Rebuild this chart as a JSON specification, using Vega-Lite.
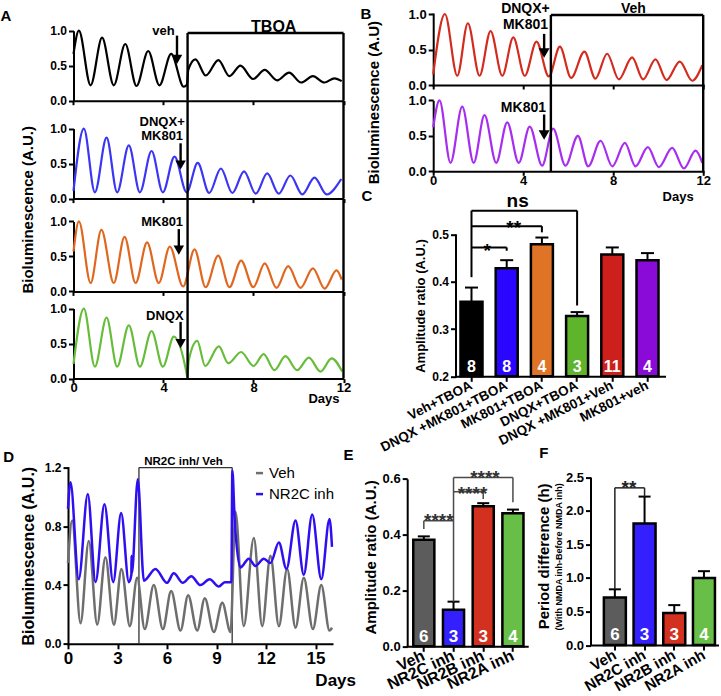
{
"$schema": "https://vega.github.io/schema/vega-lite/v6.json",
"background": "white",
"padding": {"left": 0, "top": 2, "right": 0, "bottom": 0},
"config": {
  "view": {"stroke": null},
  "font": "Liberation Sans",
  "axis": {"domainColor": "#000000", "domainWidth": 2, "domainCap": "square", "tickColor": "#000000", "tickWidth": 2, "tickSize": 5, "labelFont": "Liberation Sans", "labelFontWeight": "bold", "labelFontSize": 12, "labelColor": "#000000", "titleFont": "Liberation Sans", "titleFontWeight": "bold", "titleColor": "#000000", "grid": false, "labelPadding": 2, "titlePadding": 4, "labelFlush": false, "labelOverlap": false},
  "title": {"font": "Liberation Sans", "fontWeight": "bold", "color": "#000000", "fontSize": 15},
  "text": {"font": "Liberation Sans", "fontWeight": "bold", "color": "#000000"},
  "legend": {"labelFont": "Liberation Sans", "labelColor": "#000000"}
},
"datasets": {
  "tA": [
    {"s":"veh","x":0,"y":0.67},{"s":"veh","x":0.24,"y":1.0},{"s":"veh","x":0.76,"y":0.22},{"s":"veh","x":1.27,"y":0.9},{"s":"veh","x":1.79,"y":0.22},{"s":"veh","x":2.3,"y":0.81},{"s":"veh","x":2.8,"y":0.21},{"s":"veh","x":3.32,"y":0.71},{"s":"veh","x":3.82,"y":0.22},{"s":"veh","x":4.34,"y":0.67},{"s":"veh","x":4.9,"y":0.2},{"s":"veh","x":5.04,"y":0.23},{"s":"veh","x":5.1,"y":0.44},{"s":"veh","x":5.42,"y":0.59},{"s":"veh","x":5.88,"y":0.36},{"s":"veh","x":6.44,"y":0.58},{"s":"veh","x":6.93,"y":0.35},{"s":"veh","x":7.42,"y":0.5},{"s":"veh","x":7.98,"y":0.31},{"s":"veh","x":8.5,"y":0.44},{"s":"veh","x":9.05,"y":0.29},{"s":"veh","x":9.58,"y":0.4},{"s":"veh","x":10.12,"y":0.26},{"s":"veh","x":10.64,"y":0.35},{"s":"veh","x":11.15,"y":0.26},{"s":"veh","x":11.6,"y":0.32},{"s":"veh","x":11.92,"y":0.28},
    {"s":"dm","x":0,"y":0.11},{"s":"dm","x":0.46,"y":1.0},{"s":"dm","x":0.95,"y":0.09},{"s":"dm","x":1.47,"y":0.87},{"s":"dm","x":1.94,"y":0.09},{"s":"dm","x":2.46,"y":0.76},{"s":"dm","x":2.95,"y":0.09},{"s":"dm","x":3.47,"y":0.68},{"s":"dm","x":3.97,"y":0.09},{"s":"dm","x":4.49,"y":0.6},{"s":"dm","x":5.03,"y":0.09},{"s":"dm","x":5.52,"y":0.51},{"s":"dm","x":6.03,"y":0.08},{"s":"dm","x":6.55,"y":0.43},{"s":"dm","x":7.06,"y":0.08},{"s":"dm","x":7.58,"y":0.39},{"s":"dm","x":8.1,"y":0.07},{"s":"dm","x":8.61,"y":0.36},{"s":"dm","x":9.12,"y":0.07},{"s":"dm","x":9.64,"y":0.33},{"s":"dm","x":10.17,"y":0.06},{"s":"dm","x":10.71,"y":0.3},{"s":"dm","x":11.25,"y":0.06},{"s":"dm","x":11.9,"y":0.28},
    {"s":"mk","x":0,"y":0.57},{"s":"mk","x":0.24,"y":1.0},{"s":"mk","x":0.76,"y":0.12},{"s":"mk","x":1.24,"y":0.88},{"s":"mk","x":1.79,"y":0.12},{"s":"mk","x":2.27,"y":0.78},{"s":"mk","x":2.76,"y":0.12},{"s":"mk","x":3.27,"y":0.7},{"s":"mk","x":3.79,"y":0.12},{"s":"mk","x":4.28,"y":0.64},{"s":"mk","x":4.87,"y":0.07},{"s":"mk","x":5.38,"y":0.6},{"s":"mk","x":5.87,"y":0.06},{"s":"mk","x":6.43,"y":0.51},{"s":"mk","x":6.93,"y":0.06},{"s":"mk","x":7.45,"y":0.44},{"s":"mk","x":7.99,"y":0.06},{"s":"mk","x":8.5,"y":0.4},{"s":"mk","x":9.02,"y":0.05},{"s":"mk","x":9.54,"y":0.36},{"s":"mk","x":10.09,"y":0.05},{"s":"mk","x":10.64,"y":0.33},{"s":"mk","x":11.16,"y":0.04},{"s":"mk","x":11.69,"y":0.3},{"s":"mk","x":11.92,"y":0.17},
    {"s":"dq","x":0,"y":0.21},{"s":"dq","x":0.46,"y":1.0},{"s":"dq","x":0.95,"y":0.17},{"s":"dq","x":1.47,"y":0.87},{"s":"dq","x":1.94,"y":0.17},{"s":"dq","x":2.46,"y":0.76},{"s":"dq","x":2.95,"y":0.17},{"s":"dq","x":3.47,"y":0.68},{"s":"dq","x":3.97,"y":0.17},{"s":"dq","x":4.46,"y":0.6},{"s":"dq","x":5.0,"y":0.12},{"s":"dq","x":5.06,"y":0.02},{"s":"dq","x":5.12,"y":0.26},{"s":"dq","x":5.5,"y":0.54},{"s":"dq","x":5.85,"y":0.18},{"s":"dq","x":6.46,"y":0.46},{"s":"dq","x":6.88,"y":0.22},{"s":"dq","x":7.45,"y":0.38},{"s":"dq","x":8.0,"y":0.18},{"s":"dq","x":8.45,"y":0.35},{"s":"dq","x":8.93,"y":0.12},{"s":"dq","x":9.42,"y":0.32},{"s":"dq","x":9.94,"y":0.12},{"s":"dq","x":10.46,"y":0.3},{"s":"dq","x":10.98,"y":0.1},{"s":"dq","x":11.47,"y":0.29},{"s":"dq","x":11.94,"y":0.1}
  ],
  "tB": [
    {"s":"red","x":0,"y":0.15},{"s":"red","x":0.52,"y":1.0},{"s":"red","x":1.07,"y":0.13},{"s":"red","x":1.54,"y":0.87},{"s":"red","x":2.06,"y":0.13},{"s":"red","x":2.55,"y":0.76},{"s":"red","x":3.07,"y":0.13},{"s":"red","x":3.56,"y":0.67},{"s":"red","x":4.07,"y":0.13},{"s":"red","x":4.59,"y":0.61},{"s":"red","x":5.14,"y":0.12},{"s":"red","x":5.63,"y":0.54},{"s":"red","x":6.13,"y":0.1},{"s":"red","x":6.72,"y":0.47},{"s":"red","x":7.21,"y":0.09},{"s":"red","x":7.73,"y":0.44},{"s":"red","x":8.25,"y":0.08},{"s":"red","x":8.84,"y":0.39},{"s":"red","x":9.33,"y":0.08},{"s":"red","x":9.88,"y":0.36},{"s":"red","x":10.37,"y":0.07},{"s":"red","x":10.96,"y":0.33},{"s":"red","x":11.51,"y":0.06},{"s":"red","x":11.96,"y":0.28},
    {"s":"pur","x":0,"y":0.62},{"s":"pur","x":0.28,"y":1.0},{"s":"pur","x":0.77,"y":0.12},{"s":"pur","x":1.29,"y":0.91},{"s":"pur","x":1.8,"y":0.12},{"s":"pur","x":2.28,"y":0.79},{"s":"pur","x":2.8,"y":0.12},{"s":"pur","x":3.29,"y":0.69},{"s":"pur","x":3.8,"y":0.12},{"s":"pur","x":4.29,"y":0.63},{"s":"pur","x":4.84,"y":0.08},{"s":"pur","x":5.33,"y":0.6},{"s":"pur","x":5.88,"y":0.08},{"s":"pur","x":6.43,"y":0.5},{"s":"pur","x":6.89,"y":0.07},{"s":"pur","x":7.44,"y":0.43},{"s":"pur","x":7.96,"y":0.07},{"s":"pur","x":8.52,"y":0.4},{"s":"pur","x":8.99,"y":0.07},{"s":"pur","x":9.54,"y":0.34},{"s":"pur","x":10.03,"y":0.06},{"s":"pur","x":10.62,"y":0.33},{"s":"pur","x":11.14,"y":0.04},{"s":"pur","x":11.66,"y":0.29},{"s":"pur","x":11.96,"y":0.12}
  ],
  "tD": [
    {"s":"Veh","x":0,"y":0.55},{"s":"Veh","x":0.25,"y":0.84},{"s":"Veh","x":0.76,"y":0.14},{"s":"Veh","x":1.26,"y":0.7},{"s":"Veh","x":1.77,"y":0.13},{"s":"Veh","x":2.27,"y":0.59},{"s":"Veh","x":2.78,"y":0.13},{"s":"Veh","x":3.24,"y":0.51},{"s":"Veh","x":3.75,"y":0.12},{"s":"Veh","x":4.19,"y":0.45},{"s":"Veh","x":4.65,"y":0.1},{"s":"Veh","x":5.2,"y":0.4},{"s":"Veh","x":5.75,"y":0.1},{"s":"Veh","x":6.25,"y":0.36},{"s":"Veh","x":6.82,"y":0.09},{"s":"Veh","x":7.28,"y":0.33},{"s":"Veh","x":7.83,"y":0.09},{"s":"Veh","x":8.29,"y":0.31},{"s":"Veh","x":8.84,"y":0.08},{"s":"Veh","x":9.35,"y":0.28},{"s":"Veh","x":9.85,"y":0.08},{"s":"Veh","x":10.15,"y":0.9},{"s":"Veh","x":10.65,"y":0.12},{"s":"Veh","x":11.26,"y":0.72},{"s":"Veh","x":11.77,"y":0.12},{"s":"Veh","x":12.27,"y":0.6},{"s":"Veh","x":12.78,"y":0.12},{"s":"Veh","x":13.28,"y":0.51},{"s":"Veh","x":13.79,"y":0.11},{"s":"Veh","x":14.29,"y":0.45},{"s":"Veh","x":14.84,"y":0.1},{"s":"Veh","x":15.35,"y":0.4},{"s":"Veh","x":15.85,"y":0.09},{"s":"Veh","x":16,"y":0.11},
    {"s":"NR2C inh","x":0,"y":0.92},{"s":"NR2C inh","x":0.15,"y":1.1},{"s":"NR2C inh","x":0.65,"y":0.44},{"s":"NR2C inh","x":1.2,"y":1.02},{"s":"NR2C inh","x":1.67,"y":0.42},{"s":"NR2C inh","x":2.21,"y":0.95},{"s":"NR2C inh","x":2.74,"y":0.42},{"s":"NR2C inh","x":3.22,"y":0.89},{"s":"NR2C inh","x":3.69,"y":0.42},{"s":"NR2C inh","x":3.84,"y":0.47},{"s":"NR2C inh","x":3.85,"y":0.6},{"s":"NR2C inh","x":3.87,"y":0.48},{"s":"NR2C inh","x":4.23,"y":1.12},{"s":"NR2C inh","x":4.6,"y":0.43},{"s":"NR2C inh","x":5.3,"y":0.51},{"s":"NR2C inh","x":6.0,"y":0.415},{"s":"NR2C inh","x":6.41,"y":0.48},{"s":"NR2C inh","x":6.96,"y":0.415},{"s":"NR2C inh","x":7.47,"y":0.46},{"s":"NR2C inh","x":8.03,"y":0.4},{"s":"NR2C inh","x":8.58,"y":0.44},{"s":"NR2C inh","x":9.14,"y":0.39},{"s":"NR2C inh","x":9.5,"y":0.42},{"s":"NR2C inh","x":9.9,"y":0.42},{"s":"NR2C inh","x":9.96,"y":1.18},{"s":"NR2C inh","x":10.1,"y":0.85},{"s":"NR2C inh","x":10.45,"y":0.52},{"s":"NR2C inh","x":10.96,"y":0.58},{"s":"NR2C inh","x":11.36,"y":0.53},{"s":"NR2C inh","x":11.87,"y":0.58},{"s":"NR2C inh","x":12.27,"y":0.55},{"s":"NR2C inh","x":12.78,"y":0.69},{"s":"NR2C inh","x":13.24,"y":0.51},{"s":"NR2C inh","x":13.79,"y":0.84},{"s":"NR2C inh","x":14.29,"y":0.47},{"s":"NR2C inh","x":14.8,"y":0.88},{"s":"NR2C inh","x":15.35,"y":0.44},{"s":"NR2C inh","x":15.85,"y":0.85},{"s":"NR2C inh","x":16,"y":0.66}
  ],
  "barC": [
    {"cat":"Veh+TBOA","v":0.358,"e":0.388,"n":"8"},{"cat":"DNQX +MK801+TBOA","v":0.429,"e":0.446,"n":"8"},{"cat":"MK801+TBOA","v":0.48,"e":0.494,"n":"4"},{"cat":"DNQX+TBOA","v":0.328,"e":0.336,"n":"3"},{"cat":"DNQX +MK801+Veh","v":0.458,"e":0.473,"n":"11"},{"cat":"MK801+veh","v":0.446,"e":0.461,"n":"4"}
  ],
  "barE": [
    {"cat":"Veh","v":0.382,"e":0.394,"n":"6"},{"cat":"NR2C inh","v":0.131,"e":0.16,"n":"3"},{"cat":"NR2B inh","v":0.502,"e":0.513,"n":"3"},{"cat":"NR2A inh","v":0.477,"e":0.49,"n":"4"}
  ],
  "barF": [
    {"cat":"Veh","v":0.71,"e":0.83,"n":"6"},{"cat":"NR2C inh","v":1.81,"e":2.21,"n":"3"},{"cat":"NR2B inh","v":0.476,"e":0.595,"n":"3"},{"cat":"NR2A inh","v":1.0,"e":1.1,"n":"4"}
  ]
},
"resolve": {"scale": {"color": "independent"}, "legend": {"color": "independent"}},
"bounds": "flush",
"spacing": 453.6,
"vconcat": [
 {"resolve": {"scale": {"color": "independent"}, "legend": {"color": "independent"}},
  "bounds": "flush",
  "spacing": 365.2,
  "hconcat": [
  {"title": {"text": "A", "anchor": "start", "frame": "group", "fontSize": 15, "offset": -10, "dx": -67.5},
   "bounds": "flush",
   "vconcat": [
    {"title": {"text": "Bioluminescence (A.U.)", "orient": "left", "anchor": "middle", "fontSize": 15, "offset": 14},
     "bounds": "flush",
     "spacing": 0,
     "vconcat": [
      {"width": 275.5, "height": 86.7, "layer": [
        {"data": {"name": "tA"}, "transform": [{"filter": "datum.s === 'veh'"}], "mark": {"type": "line", "interpolate": "monotone", "color": "#000000", "strokeWidth": 2.2},
         "encoding": {"x": {"field": "x", "type": "quantitative", "scale": {"domain": [-0.2444, 12]}, "axis": {"values": [0, 4, 8, 12], "labels": false, "title": null, "tickSize": 4, "domainDash": [0, 5.5, 2000], "domainCap": "butt"}},
                      "y": {"field": "y", "type": "quantitative", "scale": {"domain": [0, 1.2386]}, "axis": {"values": [0, 0.5, 1], "format": ".1f", "title": null, "offset": -5.5, "domainDash": [70, 2000], "domainCap": "butt"}}}},
        {"data": {"values": [{"x": 5.07, "y": 0, "y2": 0.967}, {"x": 12, "y": 0, "y2": 0.967}, {"x": 4.6, "y": 0.93, "y2": 0.64}]}, "mark": {"type": "rule", "color": "#000000", "strokeWidth": 2.4},
         "encoding": {"x": {"field": "x", "type": "quantitative", "scale": {"domain": [-0.2444, 12]}}, "y": {"field": "y", "type": "quantitative", "scale": {"domain": [0, 1.2386]}}, "y2": {"field": "y2"}}},
        {"data": {"values": [{"x": 5.07, "x2": 12, "y": 0.967}]}, "mark": {"type": "rule", "color": "#000000", "strokeWidth": 2.4},
         "encoding": {"x": {"field": "x", "type": "quantitative", "scale": {"domain": [-0.2444, 12]}}, "x2": {"field": "x2"}, "y": {"field": "y", "type": "quantitative", "scale": {"domain": [0, 1.2386]}}}},
        {"data": {"values": [{"x": 4.6, "y": 0.59}]}, "mark": {"type": "point", "shape": "triangle-down", "filled": true, "color": "#000000", "opacity": 1, "size": 110},
         "encoding": {"x": {"field": "x", "type": "quantitative", "scale": {"domain": [-0.2444, 12]}}, "y": {"field": "y", "type": "quantitative", "scale": {"domain": [0, 1.2386]}}}},
        {"data": {"values": [{"x": 4.0, "y": 1.0, "t": "veh"}]}, "mark": {"type": "text", "fontSize": 13},
         "encoding": {"x": {"field": "x", "type": "quantitative", "scale": {"domain": [-0.2444, 12]}}, "y": {"field": "y", "type": "quantitative", "scale": {"domain": [0, 1.2386]}}, "text": {"field": "t"}}},
        {"data": {"values": [{"x": 8.9, "y": 1.05, "t": "TBOA"}]}, "mark": {"type": "text", "fontSize": 16},
         "encoding": {"x": {"field": "x", "type": "quantitative", "scale": {"domain": [-0.2444, 12]}}, "y": {"field": "y", "type": "quantitative", "scale": {"domain": [0, 1.2386]}}, "text": {"field": "t"}}}
      ]},
      {"width": 275.5, "height": 97.6, "layer": [
        {"data": {"name": "tA"}, "transform": [{"filter": "datum.s === 'dm'"}], "mark": {"type": "line", "interpolate": "monotone", "color": "#3b35f4", "strokeWidth": 2.2},
         "encoding": {"x": {"field": "x", "type": "quantitative", "scale": {"domain": [-0.2444, 12]}, "axis": {"values": [0, 4, 8, 12], "labels": false, "title": null, "tickSize": 4, "domainDash": [0, 5.5, 2000], "domainCap": "butt"}},
                      "y": {"field": "y", "type": "quantitative", "scale": {"domain": [0, 1.3943]}, "axis": {"values": [0, 0.5, 1], "format": ".1f", "title": null, "offset": -5.5, "domainDash": [70, 2000], "domainCap": "butt"}}}},
        {"data": {"values": [{"x": 5.07, "y": 0, "y2": 1.3943}, {"x": 12, "y": 0, "y2": 1.3943}, {"x": 4.76, "y": 0.79, "y2": 0.52}]}, "mark": {"type": "rule", "color": "#000000", "strokeWidth": 2.4},
         "encoding": {"x": {"field": "x", "type": "quantitative", "scale": {"domain": [-0.2444, 12]}}, "y": {"field": "y", "type": "quantitative", "scale": {"domain": [0, 1.3943]}}, "y2": {"field": "y2"}}},
        {"data": {"values": [{"x": 4.76, "y": 0.48}]}, "mark": {"type": "point", "shape": "triangle-down", "filled": true, "color": "#000000", "opacity": 1, "size": 110},
         "encoding": {"x": {"field": "x", "type": "quantitative", "scale": {"domain": [-0.2444, 12]}}, "y": {"field": "y", "type": "quantitative", "scale": {"domain": [0, 1.3943]}}}},
        {"data": {"values": [{"x": 3.94, "y": 1.1, "t": "DNQX+"}, {"x": 3.94, "y": 0.89, "t": "MK801"}]}, "mark": {"type": "text", "fontSize": 13},
         "encoding": {"x": {"field": "x", "type": "quantitative", "scale": {"domain": [-0.2444, 12]}}, "y": {"field": "y", "type": "quantitative", "scale": {"domain": [0, 1.3943]}}, "text": {"field": "t"}}}
      ]},
      {"width": 275.5, "height": 92.4, "layer": [
        {"data": {"name": "tA"}, "transform": [{"filter": "datum.s === 'mk'"}], "mark": {"type": "line", "interpolate": "monotone", "color": "#e0671f", "strokeWidth": 2.2},
         "encoding": {"x": {"field": "x", "type": "quantitative", "scale": {"domain": [-0.2444, 12]}, "axis": {"values": [0, 4, 8, 12], "labels": false, "title": null, "tickSize": 4, "domainDash": [0, 5.5, 2000], "domainCap": "butt"}},
                      "y": {"field": "y", "type": "quantitative", "scale": {"domain": [0, 1.32]}, "axis": {"values": [0, 0.5, 1], "format": ".1f", "title": null, "offset": -5.5, "domainDash": [70, 2000], "domainCap": "butt"}}}},
        {"data": {"values": [{"x": 5.07, "y": 0, "y2": 1.32}, {"x": 12, "y": 0, "y2": 1.32}, {"x": 4.68, "y": 0.89, "y2": 0.63}]}, "mark": {"type": "rule", "color": "#000000", "strokeWidth": 2.4},
         "encoding": {"x": {"field": "x", "type": "quantitative", "scale": {"domain": [-0.2444, 12]}}, "y": {"field": "y", "type": "quantitative", "scale": {"domain": [0, 1.32]}}, "y2": {"field": "y2"}}},
        {"data": {"values": [{"x": 4.68, "y": 0.59}]}, "mark": {"type": "point", "shape": "triangle-down", "filled": true, "color": "#000000", "opacity": 1, "size": 110},
         "encoding": {"x": {"field": "x", "type": "quantitative", "scale": {"domain": [-0.2444, 12]}}, "y": {"field": "y", "type": "quantitative", "scale": {"domain": [0, 1.32]}}}},
        {"data": {"values": [{"x": 3.94, "y": 0.99, "t": "MK801"}]}, "mark": {"type": "text", "fontSize": 13},
         "encoding": {"x": {"field": "x", "type": "quantitative", "scale": {"domain": [-0.2444, 12]}}, "y": {"field": "y", "type": "quantitative", "scale": {"domain": [0, 1.32]}}, "text": {"field": "t"}}}
      ]},
      {"width": 275.5, "height": 86.6, "layer": [
        {"data": {"name": "tA"}, "transform": [{"filter": "datum.s === 'dq'"}], "mark": {"type": "line", "interpolate": "monotone", "color": "#67bd3a", "strokeWidth": 2.2},
         "encoding": {"x": {"field": "x", "type": "quantitative", "scale": {"domain": [-0.2444, 12]}, "axis": {"values": [0, 4, 8, 12], "labelFontSize": 13, "tickSize": 4, "labelPadding": -1, "title": "Days", "titleFontSize": 13, "titleAlign": "right", "titleBaseline": "middle", "titleX": 271, "titleY": 20, "domainDash": [0, 5.5, 2000], "domainCap": "butt"}},
                      "y": {"field": "y", "type": "quantitative", "scale": {"domain": [0, 1.2371]}, "axis": {"values": [0, 0.5, 1], "format": ".1f", "title": null, "offset": -5.5, "domainDash": [70, 2000], "domainCap": "butt"}}}},
        {"data": {"values": [{"x": 5.07, "y": 0, "y2": 1.2371}, {"x": 12, "y": 0, "y2": 1.2371}, {"x": 4.76, "y": 0.81, "y2": 0.54}]}, "mark": {"type": "rule", "color": "#000000", "strokeWidth": 2.4},
         "encoding": {"x": {"field": "x", "type": "quantitative", "scale": {"domain": [-0.2444, 12]}}, "y": {"field": "y", "type": "quantitative", "scale": {"domain": [0, 1.2371]}}, "y2": {"field": "y2"}}},
        {"data": {"values": [{"x": 4.76, "y": 0.5}]}, "mark": {"type": "point", "shape": "triangle-down", "filled": true, "color": "#000000", "opacity": 1, "size": 110},
         "encoding": {"x": {"field": "x", "type": "quantitative", "scale": {"domain": [-0.2444, 12]}}, "y": {"field": "y", "type": "quantitative", "scale": {"domain": [0, 1.2371]}}}},
        {"data": {"values": [{"x": 4.06, "y": 0.89, "t": "DNQX"}]}, "mark": {"type": "text", "fontSize": 13},
         "encoding": {"x": {"field": "x", "type": "quantitative", "scale": {"domain": [-0.2444, 12]}}, "y": {"field": "y", "type": "quantitative", "scale": {"domain": [0, 1.2371]}}, "text": {"field": "t"}}}
      ]}
     ]}
   ]},
  {"spacing": 220.7,
   "bounds": "flush",
   "resolve": {"scale": {"color": "independent"}, "legend": {"color": "independent"}},
   "vconcat": [
    {"title": {"text": "B", "anchor": "start", "frame": "group", "fontSize": 15, "offset": -19.8, "dx": -72.7},
     "bounds": "flush",
     "vconcat": [
      {"title": {"text": "Bioluminescence (A.U)", "orient": "left", "anchor": "middle", "fontSize": 15, "offset": 26},
       "bounds": "flush",
       "spacing": 0,
       "vconcat": [
        {"width": 270, "height": 71, "layer": [
          {"data": {"name": "tB"}, "transform": [{"filter": "datum.s === 'red'"}], "mark": {"type": "line", "interpolate": "monotone", "color": "#d42b1f", "strokeWidth": 2.2},
           "encoding": {"x": {"field": "x", "type": "quantitative", "scale": {"domain": [0, 12]}, "axis": {"values": [0, 4, 8, 12], "labels": false, "title": null, "tickSize": 4}},
                        "y": {"field": "y", "type": "quantitative", "scale": {"domain": [0, 1]}, "axis": {"format": ".1f", "title": null, "labelFontSize": 13}}}},
          {"data": {"values": [{"x": 5.23, "y": 0, "y2": 0.986}, {"x": 12, "y": 0, "y2": 0.986}, {"x": 4.93, "y": 0.72, "y2": 0.5}]}, "mark": {"type": "rule", "color": "#000000", "strokeWidth": 2.4},
           "encoding": {"x": {"field": "x", "type": "quantitative", "scale": {"domain": [0, 12]}}, "y": {"field": "y", "type": "quantitative", "scale": {"domain": [0, 1]}}, "y2": {"field": "y2"}}},
          {"data": {"values": [{"x": 5.23, "x2": 12, "y": 0.986}]}, "mark": {"type": "rule", "color": "#000000", "strokeWidth": 2.4},
           "encoding": {"x": {"field": "x", "type": "quantitative", "scale": {"domain": [0, 12]}}, "x2": {"field": "x2"}, "y": {"field": "y", "type": "quantitative", "scale": {"domain": [0, 1]}}}},
          {"data": {"values": [{"x": 4.93, "y": 0.45}]}, "mark": {"type": "point", "shape": "triangle-down", "filled": true, "color": "#000000", "opacity": 1, "size": 120},
           "encoding": {"x": {"field": "x", "type": "quantitative", "scale": {"domain": [0, 12]}}, "y": {"field": "y", "type": "quantitative", "scale": {"domain": [0, 1]}}}},
          {"data": {"values": [{"x": 4.1, "y": 1.07, "t": "DNQX+"}, {"x": 4.1, "y": 0.85, "t": "MK801"}, {"x": 8.9, "y": 1.067, "t": "Veh"}]}, "mark": {"type": "text", "fontSize": 14},
           "encoding": {"x": {"field": "x", "type": "quantitative", "scale": {"domain": [0, 12]}}, "y": {"field": "y", "type": "quantitative", "scale": {"domain": [0, 1]}}, "text": {"field": "t"}}}
        ]},
        {"width": 270, "height": 86.3, "layer": [
          {"data": {"name": "tB"}, "transform": [{"filter": "datum.s === 'pur'"}], "mark": {"type": "line", "interpolate": "monotone", "color": "#a72df0", "strokeWidth": 2.2},
           "encoding": {"x": {"field": "x", "type": "quantitative", "scale": {"domain": [0, 12]}, "axis": {"values": [0, 4, 8, 12], "labelFontSize": 13, "tickSize": 4, "labelPadding": -1, "title": "Days", "titleFontSize": 13, "titleAnchor": "end", "titleAlign": "right", "titleX": 260, "titlePadding": 3}},
                        "y": {"field": "y", "type": "quantitative", "scale": {"domain": [0, 1.2155]}, "axis": {"values": [0, 0.5, 1], "format": ".1f", "title": null, "labelFontSize": 13, "domainDash": [71, 2000], "domainCap": "butt"}}}},
          {"data": {"values": [{"x": 5.23, "y": 0, "y2": 1.2155}, {"x": 12, "y": 0, "y2": 1.2155}, {"x": 4.93, "y": 0.8, "y2": 0.56}]}, "mark": {"type": "rule", "color": "#000000", "strokeWidth": 2.4},
           "encoding": {"x": {"field": "x", "type": "quantitative", "scale": {"domain": [0, 12]}}, "y": {"field": "y", "type": "quantitative", "scale": {"domain": [0, 1.2155]}}, "y2": {"field": "y2"}}},
          {"data": {"values": [{"x": 4.93, "y": 0.51}]}, "mark": {"type": "point", "shape": "triangle-down", "filled": true, "color": "#000000", "opacity": 1, "size": 120},
           "encoding": {"x": {"field": "x", "type": "quantitative", "scale": {"domain": [0, 12]}}, "y": {"field": "y", "type": "quantitative", "scale": {"domain": [0, 1.2155]}}}},
          {"data": {"values": [{"x": 4.01, "y": 0.89, "t": "MK801"}]}, "mark": {"type": "text", "fontSize": 14},
           "encoding": {"x": {"field": "x", "type": "quantitative", "scale": {"domain": [0, 12]}}, "y": {"field": "y", "type": "quantitative", "scale": {"domain": [0, 1.2155]}}, "text": {"field": "t"}}}
        ]}
       ]}
     ]},
    {"width": 232.3, "height": 141.6,
     "title": {"text": "C", "anchor": "start", "frame": "group", "fontSize": 15, "dx": -71.7, "offset": -12},
     "layer": [
      {"data": {"name": "barC"}, "mark": {"type": "rule", "color": "#000000", "strokeWidth": 2},
       "encoding": {"x": {"field": "cat", "type": "nominal", "sort": null, "scale": {"domain": ["Veh+TBOA","DNQX +MK801+TBOA","MK801+TBOA","DNQX+TBOA","DNQX +MK801+Veh","MK801+veh"], "paddingInner": 0.375, "paddingOuter": 0.487, "align": 0.796}},
                    "y": {"field": "v", "type": "quantitative", "scale": {"domain": [0.2, 0.5]}}, "y2": {"field": "e"}}},
      {"data": {"name": "barC"}, "mark": {"type": "tick", "color": "#000000", "size": 13, "thickness": 2, "opacity": 1},
       "encoding": {"x": {"field": "cat", "type": "nominal", "sort": null, "scale": {"domain": ["Veh+TBOA","DNQX +MK801+TBOA","MK801+TBOA","DNQX+TBOA","DNQX +MK801+Veh","MK801+veh"], "paddingInner": 0.375, "paddingOuter": 0.487, "align": 0.796}},
                    "y": {"field": "e", "type": "quantitative", "scale": {"domain": [0.2, 0.5]}}}},
      {"data": {"name": "barC"}, "mark": {"type": "bar", "stroke": "#000000", "strokeWidth": 2.5},
       "encoding": {"x": {"field": "cat", "type": "nominal", "sort": null, "scale": {"domain": ["Veh+TBOA","DNQX +MK801+TBOA","MK801+TBOA","DNQX+TBOA","DNQX +MK801+Veh","MK801+veh"], "paddingInner": 0.375, "paddingOuter": 0.487, "align": 0.796}, "axis": {"labelAngle": -27, "labelFontSize": 13.5, "title": null, "labelPadding": 3, "domainDash": [0, 22.3, 2000], "domainCap": "butt"}},
                    "y": {"field": "v", "type": "quantitative", "scale": {"domain": [0.2, 0.5]}, "axis": {"values": [0.2, 0.3, 0.4, 0.5], "format": ".1f", "title": "Amplitude ratio (A.U.)", "titleFontSize": 13, "labelFontSize": 12, "offset": -22.3}},
                    "y2": {"datum": 0.2},
                    "color": {"field": "cat", "type": "nominal", "scale": {"domain": ["Veh+TBOA","DNQX +MK801+TBOA","MK801+TBOA","DNQX+TBOA","DNQX +MK801+Veh","MK801+veh"], "range": ["#000000","#2a06ff","#df7426","#5eb42a","#cd1f1c","#8a0bd8"]}, "legend": null}}},
      {"data": {"name": "barC"}, "mark": {"type": "text", "fontSize": 16, "color": "#ffffff"},
       "encoding": {"x": {"field": "cat", "type": "nominal", "sort": null, "scale": {"domain": ["Veh+TBOA","DNQX +MK801+TBOA","MK801+TBOA","DNQX+TBOA","DNQX +MK801+Veh","MK801+veh"], "paddingInner": 0.375, "paddingOuter": 0.487, "align": 0.796}},
                    "y": {"datum": 0.219, "type": "quantitative", "scale": {"domain": [0.2, 0.5]}}, "text": {"field": "n"}}},
      {"data": {"values": [{"cat": "Veh+TBOA", "y": 0.41, "y2": 0.551}, {"cat": "DNQX+TBOA", "y": 0.35, "y2": 0.551}, {"cat": "MK801+TBOA", "y": 0.505, "y2": 0.518}, {"cat": "DNQX +MK801+TBOA", "y": 0.466, "y2": 0.473}]}, "mark": {"type": "rule", "color": "#000000", "strokeWidth": 2},
       "encoding": {"x": {"field": "cat", "type": "nominal", "sort": null, "scale": {"domain": ["Veh+TBOA","DNQX +MK801+TBOA","MK801+TBOA","DNQX+TBOA","DNQX +MK801+Veh","MK801+veh"], "paddingInner": 0.375, "paddingOuter": 0.487, "align": 0.796}},
                    "y": {"field": "y", "type": "quantitative", "scale": {"domain": [0.2, 0.5]}}, "y2": {"field": "y2"}}},
      {"data": {"values": [{"cat": "Veh+TBOA", "cat2": "DNQX+TBOA", "y": 0.551}, {"cat": "Veh+TBOA", "cat2": "MK801+TBOA", "y": 0.518}, {"cat": "Veh+TBOA", "cat2": "DNQX +MK801+TBOA", "y": 0.473}]}, "mark": {"type": "rule", "color": "#000000", "strokeWidth": 2},
       "encoding": {"x": {"field": "cat", "type": "nominal", "sort": null, "scale": {"domain": ["Veh+TBOA","DNQX +MK801+TBOA","MK801+TBOA","DNQX+TBOA","DNQX +MK801+Veh","MK801+veh"], "paddingInner": 0.375, "paddingOuter": 0.487, "align": 0.796}},
                    "x2": {"field": "cat2"},
                    "y": {"field": "y", "type": "quantitative", "scale": {"domain": [0.2, 0.5]}}}},
      {"data": {"values": [{"cat": "DNQX +MK801+TBOA", "y": 0.559, "t": "ns"}]}, "mark": {"type": "text", "fontSize": 19, "baseline": "alphabetic"},
       "encoding": {"x": {"field": "cat", "type": "nominal", "bandPosition": 1, "scale": {"domain": ["Veh+TBOA","DNQX +MK801+TBOA","MK801+TBOA","DNQX+TBOA","DNQX +MK801+Veh","MK801+veh"], "paddingInner": 0.375, "paddingOuter": 0.487, "align": 0.796}},
                    "y": {"field": "y", "type": "quantitative", "scale": {"domain": [0.2, 0.5]}}, "text": {"field": "t"}}},
      {"data": {"values": [{"cat": "DNQX +MK801+TBOA", "y": 0.502, "t": "**"}]}, "mark": {"type": "text", "fontSize": 19, "baseline": "alphabetic"},
       "encoding": {"x": {"field": "cat", "type": "nominal", "bandPosition": 0.82, "scale": {"domain": ["Veh+TBOA","DNQX +MK801+TBOA","MK801+TBOA","DNQX+TBOA","DNQX +MK801+Veh","MK801+veh"], "paddingInner": 0.375, "paddingOuter": 0.487, "align": 0.796}},
                    "y": {"field": "y", "type": "quantitative", "scale": {"domain": [0.2, 0.5]}}, "text": {"field": "t"}}},
      {"data": {"values": [{"cat": "Veh+TBOA", "y": 0.452, "t": "*"}]}, "mark": {"type": "text", "fontSize": 19, "baseline": "alphabetic"},
       "encoding": {"x": {"field": "cat", "type": "nominal", "bandPosition": 1.21, "scale": {"domain": ["Veh+TBOA","DNQX +MK801+TBOA","MK801+TBOA","DNQX+TBOA","DNQX +MK801+Veh","MK801+veh"], "paddingInner": 0.375, "paddingOuter": 0.487, "align": 0.796}},
                    "y": {"field": "y", "type": "quantitative", "scale": {"domain": [0.2, 0.5]}}, "text": {"field": "t"}}}
     ]}
   ]}
 ]},
 {"resolve": {"scale": {"color": "independent"}, "legend": {"color": "independent"}},
  "bounds": "flush",
  "spacing": 75.2,
  "hconcat": [
  {"width": 264, "height": 176.2, "layer": [
    {"data": {"values": [{"x": 4.3, "y": 0, "y2": 1.2}, {"x": 9.95, "y": 0, "y2": 1.2}]}, "mark": {"type": "rule", "color": "#333333", "strokeWidth": 1.3},
     "encoding": {"x": {"field": "x", "type": "quantitative", "scale": {"domain": [0, 16]}}, "y": {"field": "y", "type": "quantitative", "scale": {"domain": [0, 1.2]}}, "y2": {"field": "y2"}}},
    {"data": {"values": [{"x": 4.3, "x2": 9.95, "y": 1.2}]}, "mark": {"type": "rule", "color": "#333333", "strokeWidth": 1.3},
     "encoding": {"x": {"field": "x", "type": "quantitative", "scale": {"domain": [0, 16]}}, "x2": {"field": "x2"}, "y": {"field": "y", "type": "quantitative", "scale": {"domain": [0, 1.2]}}}},
    {"data": {"name": "tD"}, "transform": [{"filter": "datum.s === 'Veh'"}], "mark": {"type": "line", "interpolate": "monotone", "strokeWidth": 2.5},
     "encoding": {"x": {"field": "x", "type": "quantitative", "scale": {"domain": [0, 16]}, "axis": {"values": [0, 3, 6, 9, 12, 15], "labelFontSize": 17, "title": "Days", "titleFontSize": 17, "titleAlign": "right", "titleBaseline": "middle", "titleX": 287.5, "titleY": 37}},
                  "y": {"field": "y", "type": "quantitative", "scale": {"domain": [0, 1.2]}, "axis": {"values": [0, 0.4, 0.8, 1.2], "format": ".1f", "labelFontSize": 12, "title": "Bioluminescence (A.U.)", "titleFontSize": 16, "titlePadding": 8}},
                  "color": {"field": "s", "type": "nominal", "scale": {"domain": ["Veh", "NR2C inh"], "range": ["#6e6e6e", "#2e0ff2"]}, "legend": {"orient": "none", "legendX": 184, "legendY": -2, "title": null, "symbolType": "stroke", "symbolSize": 50, "symbolStrokeWidth": 2.5, "labelFontSize": 15, "labelFontWeight": "normal", "rowPadding": 5, "labelOffset": 2, "padding": 0}}}},
    {"data": {"name": "tD"}, "transform": [{"filter": "datum.s === 'NR2C inh'"}], "mark": {"type": "line", "interpolate": "monotone", "strokeWidth": 2.5},
     "encoding": {"x": {"field": "x", "type": "quantitative", "scale": {"domain": [0, 16]}},
                  "y": {"field": "y", "type": "quantitative", "scale": {"domain": [0, 1.2]}},
                  "color": {"field": "s", "type": "nominal", "scale": {"domain": ["Veh", "NR2C inh"], "range": ["#6e6e6e", "#2e0ff2"]}, "legend": {"orient": "none", "legendX": 184, "legendY": -2, "title": null, "symbolType": "stroke", "symbolSize": 50, "symbolStrokeWidth": 2.5, "labelFontSize": 15, "labelFontWeight": "normal", "rowPadding": 5, "labelOffset": 2, "padding": 0}}}},
    {"data": {"values": [{"x": 7.0, "y": 1.24, "t": "NR2C inh/ Veh"}]}, "mark": {"type": "text", "fontSize": 11.5},
     "encoding": {"x": {"field": "x", "type": "quantitative", "scale": {"domain": [0, 16]}}, "y": {"field": "y", "type": "quantitative", "scale": {"domain": [0, 1.2]}}, "text": {"field": "t"}}},
    {"data": {"values": [{"x": -3.6, "y": 1.27, "t": "D"}]}, "mark": {"type": "text", "fontSize": 15},
     "encoding": {"x": {"field": "x", "type": "quantitative", "scale": {"domain": [0, 16]}}, "y": {"field": "y", "type": "quantitative", "scale": {"domain": [0, 1.2]}}, "text": {"field": "t"}}}
  ]},
  {"resolve": {"scale": {"color": "independent"}, "legend": {"color": "independent"}},
   "bounds": "flush",
   "spacing": 63.3,
   "hconcat": [
    {"width": 120, "height": 178.7,
     "title": {"text": "E", "anchor": "start", "frame": "group", "fontSize": 15, "dx": -63.7, "offset": -17},
     "layer": [
      {"data": {"name": "barE"}, "mark": {"type": "rule", "color": "#000000", "strokeWidth": 2},
       "encoding": {"x": {"field": "cat", "type": "nominal", "sort": null, "scale": {"domain": ["Veh","NR2C inh","NR2B inh","NR2A inh"], "paddingInner": 0.29, "paddingOuter": 0.165, "align": 0.62}},
                    "y": {"field": "v", "type": "quantitative", "scale": {"domain": [0, 0.6405]}}, "y2": {"field": "e"}}},
      {"data": {"name": "barE"}, "mark": {"type": "tick", "color": "#000000", "size": 12, "thickness": 2, "opacity": 1},
       "encoding": {"x": {"field": "cat", "type": "nominal", "sort": null, "scale": {"domain": ["Veh","NR2C inh","NR2B inh","NR2A inh"], "paddingInner": 0.29, "paddingOuter": 0.165, "align": 0.62}},
                    "y": {"field": "e", "type": "quantitative", "scale": {"domain": [0, 0.6405]}}}},
      {"data": {"name": "barE"}, "mark": {"type": "bar", "stroke": "#000000", "strokeWidth": 2.5},
       "encoding": {"x": {"field": "cat", "type": "nominal", "sort": null, "scale": {"domain": ["Veh","NR2C inh","NR2B inh","NR2A inh"], "paddingInner": 0.29, "paddingOuter": 0.165, "align": 0.62}, "axis": {"labelAngle": -25, "labelFontSize": 16, "title": null, "labelPadding": 3}},
                    "y": {"field": "v", "type": "quantitative", "scale": {"domain": [0, 0.6405]}, "axis": {"values": [0, 0.2, 0.4, 0.6], "format": ".1f", "title": "Amplitude ratio (A.U.)", "titleFontSize": 15, "labelFontSize": 13, "domainDash": [167.4, 2000], "domainCap": "butt"}},
                    "color": {"field": "cat", "type": "nominal", "scale": {"domain": ["Veh","NR2C inh","NR2B inh","NR2A inh"], "range": ["#5c5c5c","#3420ff","#d3311f","#67bf48"]}, "legend": null}}},
      {"data": {"name": "barE"}, "mark": {"type": "text", "fontSize": 17, "color": "#ffffff"},
       "encoding": {"x": {"field": "cat", "type": "nominal", "sort": null, "scale": {"domain": ["Veh","NR2C inh","NR2B inh","NR2A inh"], "paddingInner": 0.29, "paddingOuter": 0.165, "align": 0.62}},
                    "y": {"datum": 0.034, "type": "quantitative", "scale": {"domain": [0, 0.6405]}}, "text": {"field": "n"}}},
      {"data": {"values": [{"cat": "Veh", "y": 0.42, "y2": 0.45}, {"cat": "NR2C inh", "y": 0.16, "y2": 0.605}, {"cat": "NR2B inh", "y": 0.528, "y2": 0.554}, {"cat": "NR2A inh", "y": 0.516, "y2": 0.605}]}, "mark": {"type": "rule", "color": "#4a4a4a", "strokeWidth": 1.5},
       "encoding": {"x": {"field": "cat", "type": "nominal", "sort": null, "scale": {"domain": ["Veh","NR2C inh","NR2B inh","NR2A inh"], "paddingInner": 0.29, "paddingOuter": 0.165, "align": 0.62}},
                    "y": {"field": "y", "type": "quantitative", "scale": {"domain": [0, 0.6405]}}, "y2": {"field": "y2"}}},
      {"data": {"values": [{"cat": "Veh", "cat2": "NR2C inh", "y": 0.45}, {"cat": "NR2C inh", "cat2": "NR2B inh", "y": 0.554}, {"cat": "NR2C inh", "cat2": "NR2A inh", "y": 0.605}]}, "mark": {"type": "rule", "color": "#4a4a4a", "strokeWidth": 1.5},
       "encoding": {"x": {"field": "cat", "type": "nominal", "sort": null, "scale": {"domain": ["Veh","NR2C inh","NR2B inh","NR2A inh"], "paddingInner": 0.29, "paddingOuter": 0.165, "align": 0.62}},
                    "x2": {"field": "cat2"},
                    "y": {"field": "y", "type": "quantitative", "scale": {"domain": [0, 0.6405]}}}},
      {"data": {"values": [{"cat": "Veh", "y": 0.427, "t": "****"}]}, "mark": {"type": "text", "fontSize": 19, "baseline": "alphabetic", "color": "#333333"},
       "encoding": {"x": {"field": "cat", "type": "nominal", "bandPosition": 1.21, "scale": {"domain": ["Veh","NR2C inh","NR2B inh","NR2A inh"], "paddingInner": 0.29, "paddingOuter": 0.165, "align": 0.62}},
                    "y": {"field": "y", "type": "quantitative", "scale": {"domain": [0, 0.6405]}}, "text": {"field": "t"}}},
      {"data": {"values": [{"cat": "NR2C inh", "y": 0.523, "t": "****"}]}, "mark": {"type": "text", "fontSize": 19, "baseline": "alphabetic", "color": "#333333"},
       "encoding": {"x": {"field": "cat", "type": "nominal", "bandPosition": 1.4, "scale": {"domain": ["Veh","NR2C inh","NR2B inh","NR2A inh"], "paddingInner": 0.29, "paddingOuter": 0.165, "align": 0.62}},
                    "y": {"field": "y", "type": "quantitative", "scale": {"domain": [0, 0.6405]}}, "text": {"field": "t"}}},
      {"data": {"values": [{"cat": "NR2B inh", "y": 0.58, "t": "****"}]}, "mark": {"type": "text", "fontSize": 19, "baseline": "alphabetic", "color": "#333333"},
       "encoding": {"x": {"field": "cat", "type": "nominal", "bandPosition": 0.58, "scale": {"domain": ["Veh","NR2C inh","NR2B inh","NR2A inh"], "paddingInner": 0.29, "paddingOuter": 0.165, "align": 0.62}},
                    "y": {"field": "y", "type": "quantitative", "scale": {"domain": [0, 0.6405]}}, "text": {"field": "t"}}},
      {"data": {"values": [{"cat": "NR2A inh", "y": 0.692, "t": "F"}]}, "mark": {"type": "text", "fontSize": 15},
       "encoding": {"x": {"field": "cat", "type": "nominal", "bandPosition": 1.96, "scale": {"domain": ["Veh","NR2C inh","NR2B inh","NR2A inh"], "paddingInner": 0.29, "paddingOuter": 0.165, "align": 0.62}},
                    "y": {"field": "y", "type": "quantitative", "scale": {"domain": [0, 0.6405]}}, "text": {"field": "t"}}}
     ]},
    {"width": 128, "height": 177.5,
     "title": {"text": "Period difference (h)", "orient": "left", "anchor": "middle", "fontSize": 15, "offset": 2},
     "layer": [
      {"data": {"name": "barF"}, "mark": {"type": "rule", "color": "#000000", "strokeWidth": 2},
       "encoding": {"x": {"field": "cat", "type": "nominal", "sort": null, "scale": {"domain": ["Veh","NR2C inh","NR2B inh","NR2A inh"], "paddingInner": 0.26, "paddingOuter": 0.285, "align": 0.79}},
                    "y": {"field": "v", "type": "quantitative", "scale": {"domain": [0, 2.6414]}}, "y2": {"field": "e"}}},
      {"data": {"name": "barF"}, "mark": {"type": "tick", "color": "#000000", "size": 12, "thickness": 2, "opacity": 1},
       "encoding": {"x": {"field": "cat", "type": "nominal", "sort": null, "scale": {"domain": ["Veh","NR2C inh","NR2B inh","NR2A inh"], "paddingInner": 0.26, "paddingOuter": 0.285, "align": 0.79}},
                    "y": {"field": "e", "type": "quantitative", "scale": {"domain": [0, 2.6414]}}}},
      {"data": {"name": "barF"}, "mark": {"type": "bar", "stroke": "#000000", "strokeWidth": 2.5},
       "encoding": {"x": {"field": "cat", "type": "nominal", "sort": null, "scale": {"domain": ["Veh","NR2C inh","NR2B inh","NR2A inh"], "paddingInner": 0.26, "paddingOuter": 0.285, "align": 0.79}, "axis": {"labelAngle": -30, "labelFontSize": 15, "title": null, "labelPadding": 3}},
                    "y": {"field": "v", "type": "quantitative", "scale": {"domain": [0, 2.6414]}, "axis": {"tickCount": 6, "labelOverlap": false, "format": ".1f", "title": "(With NMDA inh-Before NMDA inh)", "titleFontSize": 9, "titlePadding": 2, "labelFontSize": 13, "domainDash": [168, 2000], "domainCap": "butt"}},
                    "color": {"field": "cat", "type": "nominal", "scale": {"domain": ["Veh","NR2C inh","NR2B inh","NR2A inh"], "range": ["#5c5c5c","#3420ff","#d3311f","#67bf48"]}, "legend": null}}},
      {"data": {"name": "barF"}, "mark": {"type": "text", "fontSize": 17, "color": "#ffffff"},
       "encoding": {"x": {"field": "cat", "type": "nominal", "sort": null, "scale": {"domain": ["Veh","NR2C inh","NR2B inh","NR2A inh"], "paddingInner": 0.26, "paddingOuter": 0.285, "align": 0.79}},
                    "y": {"datum": 0.15, "type": "quantitative", "scale": {"domain": [0, 2.6414]}}, "text": {"field": "n"}}},
      {"data": {"values": [{"cat": "Veh", "y": 0.83, "y2": 2.34}, {"cat": "NR2C inh", "y": 2.21, "y2": 2.34}]}, "mark": {"type": "rule", "color": "#222222", "strokeWidth": 1.5},
       "encoding": {"x": {"field": "cat", "type": "nominal", "sort": null, "scale": {"domain": ["Veh","NR2C inh","NR2B inh","NR2A inh"], "paddingInner": 0.26, "paddingOuter": 0.285, "align": 0.79}},
                    "y": {"field": "y", "type": "quantitative", "scale": {"domain": [0, 2.6414]}}, "y2": {"field": "y2"}}},
      {"data": {"values": [{"cat": "Veh", "cat2": "NR2C inh", "y": 2.34}]}, "mark": {"type": "rule", "color": "#222222", "strokeWidth": 1.5},
       "encoding": {"x": {"field": "cat", "type": "nominal", "sort": null, "scale": {"domain": ["Veh","NR2C inh","NR2B inh","NR2A inh"], "paddingInner": 0.26, "paddingOuter": 0.285, "align": 0.79}},
                    "x2": {"field": "cat2"},
                    "y": {"field": "y", "type": "quantitative", "scale": {"domain": [0, 2.6414]}}}},
      {"data": {"values": [{"cat": "Veh", "y": 2.25, "t": "**"}]}, "mark": {"type": "text", "fontSize": 19, "baseline": "alphabetic", "color": "#222222"},
       "encoding": {"x": {"field": "cat", "type": "nominal", "bandPosition": 1.14, "scale": {"domain": ["Veh","NR2C inh","NR2B inh","NR2A inh"], "paddingInner": 0.26, "paddingOuter": 0.285, "align": 0.79}},
                    "y": {"field": "y", "type": "quantitative", "scale": {"domain": [0, 2.6414]}}, "text": {"field": "t"}}}
     ]}
  ]}
 ]}
]
}
